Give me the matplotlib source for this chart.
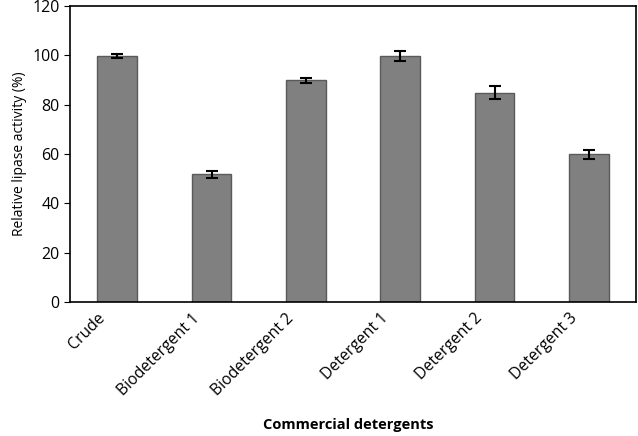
import matplotlib.pyplot as plt
import matplotlib.transforms as mtransforms

plt.rcParams['font.family'] = ['Open Sans', 'DejaVu Sans']

categories = ['Crude', 'Biodetergent 1', 'Biodetergent 2', 'Detergent 1', 'Detergent 2', 'Detergent 3']
activity = [99.7, 51.8, 89.8, 99.8, 84.8, 59.9]
errors = [0.8, 1.5, 1.2, 1.9, 2.6, 1.8]

fig = plt.figure(figsize=(6.38, 4.36), dpi=100)
ax = fig.add_axes([70 / 638, 1 - 302 / 436, 566 / 638, 296 / 436])

x = range(len(categories))
ax.bar(x, activity, width=0.42, color='#808080', edgecolor='#5a5a5a', linewidth=1,
       yerr=errors, error_kw=dict(ecolor='black', elinewidth=1.5, capsize=4, capthick=1.5))

ax.set_xlim(-0.5, len(categories) - 0.5)
ax.set_ylim(0, 120)
ax.set_yticks(range(0, 121, 20))
ax.set_xticks(list(x))
ax.set_xticklabels(categories, rotation=45, ha='right', rotation_mode='anchor', fontsize=11.3)
ax.tick_params(axis='x', length=0, pad=6)
ax.tick_params(axis='y', labelsize=11.5, length=4, direction='out')

# shift the rotated labels left so their ends sit left of each bar
offset = mtransforms.ScaledTranslation(-20 / 100, 0, fig.dpi_scale_trans)
for lbl in ax.get_xticklabels():
    lbl.set_transform(lbl.get_transform() + offset)

for s in ax.spines.values():
    s.set_linewidth(1.2)
ax.set_ylabel('Relative lipase activity (%)', fontsize=10)
fig.text(348 / 638, 1 - 425 / 436, 'Commercial detergents', fontsize=10.5,
         fontweight='bold', ha='center', va='center')

fig.savefig('out.png', dpi=100)
